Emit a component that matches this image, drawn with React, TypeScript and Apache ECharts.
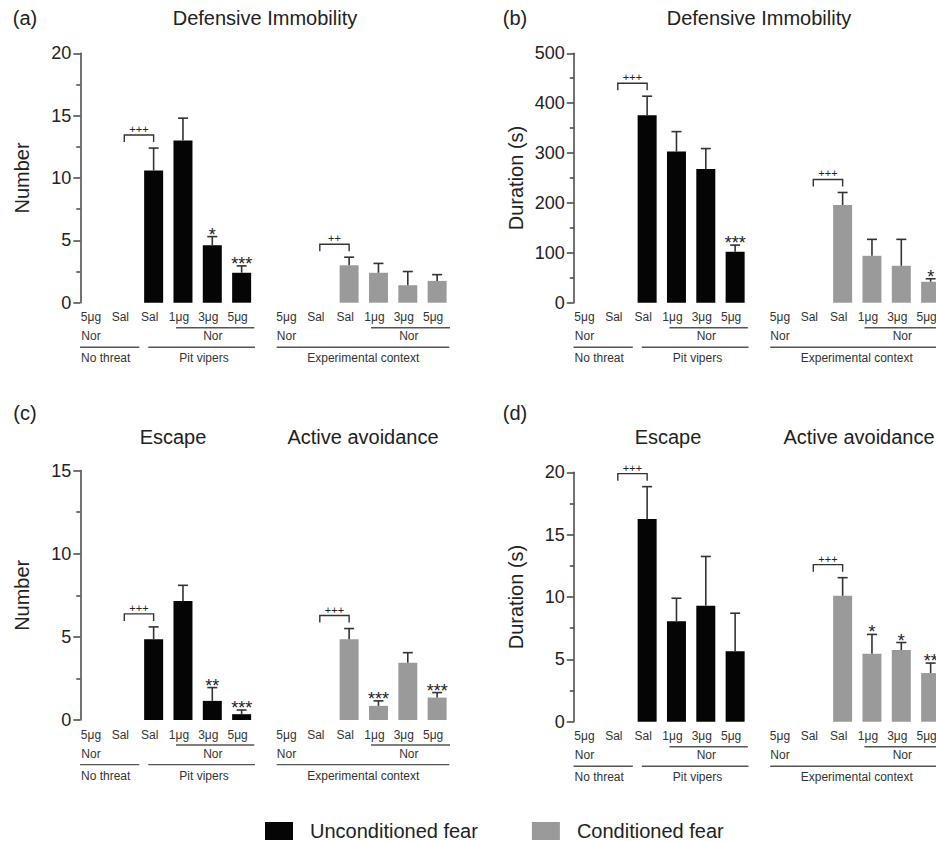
import React, { useEffect, useRef } from "react";
import * as echarts from "echarts";

// ---------- DATA ----------
const categories = ["5μg\nNor", "Sal", "Sal", "1μg", "3μg", "5μg"];
const legendNames = ["Unconditioned fear", "Conditioned fear"];
const norLabel = "Nor";
const leftGroupNames = ["No threat", "Pit vipers"];
const rightGroupName = "Experimental context";

const panelLetters = ["(a)", "(b)", "(c)", "(d)"];
const panelTitles = [
  ["Defensive Immobility"],
  ["Defensive Immobility"],
  ["Escape", "Active avoidance"],
  ["Escape", "Active avoidance"],
];
const yNames = ["Number", "Duration (s)", "Number", "Duration (s)"];
const yMax = [20, 500, 15, 20];
const yInterval = [5, 100, 5, 5];

// (a) Defensive immobility – number
const aUncMean = [0, 0, 10.6, 13.0, 4.6, 2.4];
const aUncSem = [0, 0, 1.8, 1.8, 0.7, 0.55];
const aUncSig = ["", "", "", "", "*", "***"];
const aConMean = [0, 0, 3.0, 2.4, 1.4, 1.75];
const aConSem = [0, 0, 0.65, 0.75, 1.1, 0.5];
const aConSig = ["", "", "", "", "", ""];
const aBrackets = ["+++", "++"];

// (b) Defensive immobility – duration
const bUncMean = [0, 0, 376, 303, 268, 102];
const bUncSem = [0, 0, 38, 40, 41, 13.5];
const bUncSig = ["", "", "", "", "", "***"];
const bConMean = [0, 0, 196, 94, 74, 42];
const bConSem = [0, 0, 25, 33, 53, 6];
const bConSig = ["", "", "", "", "", "*"];
const bBrackets = ["+++", "+++"];

// (c) Escape / active avoidance – number
const cUncMean = [0, 0, 4.85, 7.15, 1.15, 0.35];
const cUncSem = [0, 0, 0.75, 0.95, 0.8, 0.25];
const cUncSig = ["", "", "", "", "**", "***"];
const cConMean = [0, 0, 4.85, 0.85, 3.45, 1.35];
const cConSem = [0, 0, 0.65, 0.3, 0.6, 0.3];
const cConSig = ["", "", "", "***", "", "***"];
const cBrackets = ["+++", "+++"];

// (d) Escape / active avoidance – duration
const dUncMean = [0, 0, 16.25, 8.05, 9.3, 5.65];
const dUncSem = [0, 0, 2.6, 1.85, 3.95, 3.05];
const dUncSig = ["", "", "", "", "", ""];
const dConMean = [0, 0, 10.1, 5.45, 5.75, 3.9];
const dConSem = [0, 0, 1.45, 1.55, 0.6, 0.8];
const dConSig = ["", "", "", "*", "*", "**"];
const dBrackets = ["+++", "+++"];

const panelData = [
  { groups: [{ mean: aUncMean, sem: aUncSem, sig: aUncSig }, { mean: aConMean, sem: aConSem, sig: aConSig }], brackets: aBrackets },
  { groups: [{ mean: bUncMean, sem: bUncSem, sig: bUncSig }, { mean: bConMean, sem: bConSem, sig: bConSig }], brackets: bBrackets },
  { groups: [{ mean: cUncMean, sem: cUncSem, sig: cUncSig }, { mean: cConMean, sem: cConSem, sig: cConSig }], brackets: cBrackets },
  { groups: [{ mean: dUncMean, sem: dUncSem, sig: dUncSig }, { mean: dConMean, sem: dConSem, sig: dConSig }], brackets: dBrackets },
];

// ---------- LAYOUT / STYLE ----------
const FONT = "Arial, 'Liberation Sans', Helvetica, sans-serif";
const COLORS = ["#050505", "#9a9a9a"];
const INK = "#222";
const LINE = "#444";

const PANELS = [
  { ox: 0, oy: 0, letter: { x: 25, y: 18 }, titles: [{ x: 265, y: 18 }] },
  { ox: 493.5, oy: 0, letter: { x: 515, y: 18 }, titles: [{ x: 759, y: 18 }] },
  { ox: 0, oy: 417.3, letter: { x: 25, y: 413 }, titles: [{ x: 173, y: 437 }, { x: 363, y: 437 }] },
  { ox: 493.5, oy: 419, letter: { x: 515, y: 413 }, titles: [{ x: 668, y: 437 }, { x: 859, y: 437 }] },
];
const GRID_TOP = 53.3;
const GRID_H = 249.4;
const GRID_W = 176;
const GROUP_X = [80.3, 275.8];

function txt(text: string, x: number, y: number, size: number, align = "center", color = INK) {
  return {
    type: "text",
    x,
    y,
    silent: true,
    style: {
      text,
      fill: color,
      fontSize: size,
      fontFamily: FONT,
      align,
      verticalAlign: "middle",
      textAlign: align,
      textVerticalAlign: "middle",
    },
  };
}

function hline(x1: number, x2: number, y: number) {
  return {
    type: "line",
    silent: true,
    shape: { x1, y1: y, x2, y2: y },
    style: { stroke: "#555", lineWidth: 1.4 },
  };
}

function buildOption() {
  const grids: any[] = [];
  const xAxes: any[] = [];
  const yAxes: any[] = [];
  const series: any[] = [];
  const graphics: any[] = [];

  PANELS.forEach((pl, p) => {
    const pd = panelData[p];
    graphics.push(txt(panelLetters[p], pl.letter.x, pl.letter.y, 20));
    panelTitles[p].forEach((t, k) => graphics.push(txt(t, pl.titles[k].x, pl.titles[k].y, 20)));

    const base = pl.oy + GRID_TOP + GRID_H;
    const L = pl.ox + GROUP_X[0];
    const R = pl.ox + GROUP_X[1];
    // left group annotation rows
    graphics.push(hline(L + 95.7, L + 174, base + 25));
    graphics.push(txt(norLabel, L + 132.5, base + 33.5, 12, "center", "#333"));
    graphics.push(hline(L - 0.3, L + 59, base + 44.6));
    graphics.push(hline(L + 68, L + 174.7, base + 44.6));
    graphics.push(txt(leftGroupNames[0], L + 0.7, base + 55.5, 12, "left", "#333"));
    graphics.push(txt(leftGroupNames[1], L + 123.7, base + 55.5, 12, "center", "#333"));
    // right group annotation rows
    graphics.push(hline(R + 95.2, R + 174.2, base + 25));
    graphics.push(txt(norLabel, R + 133, base + 33.5, 12, "center", "#333"));
    graphics.push(hline(R + 0.9, R + 173.5, base + 44.6));
    graphics.push(txt(rightGroupName, R + 87.5, base + 55.5, 12, "center", "#333"));

    [0, 1].forEach((g) => {
      const gi = p * 2 + g;
      grids.push({
        left: pl.ox + GROUP_X[g],
        top: pl.oy + GRID_TOP,
        width: GRID_W,
        height: GRID_H,
        containLabel: false,
        outerBoundsMode: "none",
      });
      xAxes.push({
        type: "category",
        gridIndex: gi,
        data: categories,
        axisLine: { show: false },
        axisTick: { show: false },
        axisLabel: {
          interval: 0,
          fontSize: 12,
          lineHeight: 19,
          margin: 5,
          color: "#333",
          fontFamily: FONT,
          padding: [0, 8, 0, 0],
        },
      });
      yAxes.push({
        type: "value",
        gridIndex: gi,
        min: 0,
        max: yMax[p],
        interval: yInterval[p],
        show: g === 0,
        name: g === 0 ? yNames[p] : "",
        nameLocation: "middle",
        nameGap: 48,
        nameTextStyle: { fontSize: 20, color: INK, fontFamily: FONT },
        axisLine: { show: true, lineStyle: { color: LINE, width: 1.5 } },
        axisTick: { show: true, length: 7, lineStyle: { color: LINE, width: 1.5 } },
        minorTick: { show: true, splitNumber: 2, length: 4, lineStyle: { color: LINE, width: 1.5 } },
        splitLine: { show: false },
        minorSplitLine: { show: false },
        axisLabel: { fontSize: 18, color: INK, margin: 9, fontFamily: FONT },
      });

      const grp = pd.groups[g];
      series.push({
        type: "bar",
        name: legendNames[g],
        xAxisIndex: gi,
        yAxisIndex: gi,
        data: grp.mean,
        barWidth: 19,
        itemStyle: { color: COLORS[g] },
        z: 2,
      });

      const errItems = grp.mean.map((m, i) => ({ i, m, hi: m + grp.sem[i] })).filter((o) => grp.sem[o.i] > 0);
      series.push({
        type: "custom",
        xAxisIndex: gi,
        yAxisIndex: gi,
        z: 3,
        silent: true,
        encode: { x: 0, y: [1, 2] },
        data: errItems.map((o) => [o.i, o.m, o.hi]),
        renderItem: (params: any, api: any) => {
          const i = api.value(0);
          const p0 = api.coord([i, api.value(1)]);
          const p1 = api.coord([i, api.value(2)]);
          const st = { stroke: "#333", lineWidth: 1.6 };
          return {
            type: "group",
            children: [
              { type: "line", shape: { x1: p0[0], y1: p0[1], x2: p1[0], y2: p1[1] }, style: st },
              { type: "line", shape: { x1: p1[0] - 5, y1: p1[1], x2: p1[0] + 5, y2: p1[1] }, style: st },
            ],
          };
        },
      });

      const sigItems = grp.sig.map((s, i) => ({ s, i })).filter((o) => o.s);
      if (sigItems.length) {
        series.push({
          type: "custom",
          xAxisIndex: gi,
          yAxisIndex: gi,
          z: 4,
          silent: true,
          clip: false,
          encode: { x: 0, y: 1 },
          data: sigItems.map((o) => [o.i, grp.mean[o.i] + grp.sem[o.i]]),
          renderItem: (params: any, api: any) => {
            const pt = api.coord([api.value(0), api.value(1)]);
            const s = sigItems[params.dataIndex].s;
            return {
              type: "text",
              x: pt[0],
              y: pt[1] - 2,
              style: {
                text: s,
                fill: INK,
                fontSize: 18,
                fontFamily: FONT,
                align: "center",
                verticalAlign: "middle",
                textAlign: "center",
                textVerticalAlign: "middle",
              },
            };
          },
        });
      }

      // bracket between "Sal" (no threat) and "Sal" (threat)
      const label = pd.brackets[g];
      const ref = grp.mean[2] + grp.sem[2];
      series.push({
        type: "custom",
        xAxisIndex: gi,
        yAxisIndex: gi,
        z: 4,
        silent: true,
        clip: false,
        encode: { x: [0, 1], y: 2 },
        data: [[1, 2, ref]],
        renderItem: (params: any, api: any) => {
          const a = api.coord([api.value(0), api.value(2)]);
          const b = api.coord([api.value(1), api.value(2)]);
          const top = b[1] - 13;
          const leg = b[1] - 6;
          return {
            type: "group",
            children: [
              {
                type: "polyline",
                shape: { points: [[a[0], leg], [a[0], top], [b[0], top], [b[0], leg]] },
                style: { stroke: "#333", lineWidth: 1.4, fill: null },
              },
              {
                type: "text",
                x: (a[0] + b[0]) / 2,
                y: top - 6,
                style: {
                  text: label,
                  fill: INK,
                  fontSize: 11,
                  fontFamily: FONT,
                  align: "center",
                  verticalAlign: "middle",
                  textAlign: "center",
                  textVerticalAlign: "middle",
                },
              },
            ],
          };
        },
      });
    });
  });

  return {
    animation: false,
    backgroundColor: "#fff",
    textStyle: { fontFamily: FONT },
    grid: grids,
    xAxis: xAxes,
    yAxis: yAxes,
    series,
    legend: {
      data: legendNames,
      left: 265,
      top: 821,
      padding: 0,
      icon: "rect",
      itemWidth: 28,
      itemHeight: 18,
      itemGap: 54,
      selectedMode: false,
      textStyle: { fontSize: 20, color: INK, fontFamily: FONT, padding: [0, 0, 0, 12] },
    },
    graphic: { elements: graphics },
  };
}

export default function App() {
  const ref = useRef<HTMLDivElement>(null);
  useEffect(() => {
    const chart = echarts.init(ref.current!, null, { renderer: "svg" });
    chart.setOption(buildOption() as any);
    return () => chart.dispose();
  }, []);
  return <div ref={ref} style={{ position: "absolute", left: 0, top: 0, width: 936, height: 841 }} />;
}
